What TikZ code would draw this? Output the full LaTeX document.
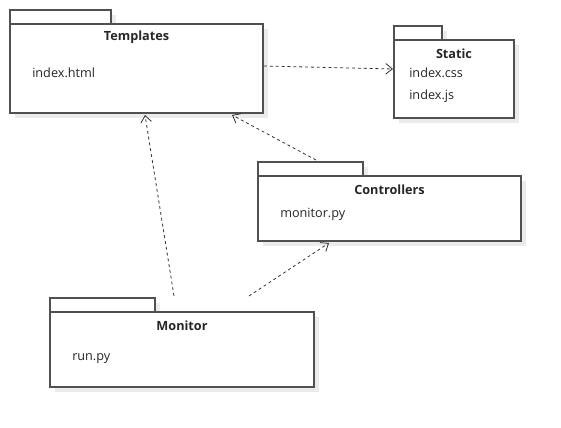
\documentclass[tikz,border=0pt]{standalone}
\usepackage{fontspec}
\setmainfont{Open Sans}
\usetikzlibrary{arrows.meta}
\definecolor{lineg}{HTML}{505050}
\definecolor{shad}{HTML}{EBEBEB}
\tikzset{
  pkgline/.style={draw=lineg, line width=1pt},
  shadowbox/.style={fill=shad, draw=none},
  title/.style={font=\fontsize{9.5}{11}\selectfont\bfseries, text=black!85, inner sep=0pt},
  item/.style={font=\fontsize{9.5}{11}\selectfont, text=black!85, inner sep=0pt, anchor=west},
  dep/.style={draw=black!80, line width=0.6pt, dash pattern=on 2.2pt off 2.2pt, -{Straight Barb[length=5pt,width=8pt,line width=0.6pt]}}
}
\newcommand{\pkg}[6]{% name, tabright, x1,y1,x2,y2 (tab top = y1-14)
  \fill[shadowbox] (#3+5,#4+5) rectangle (#5+5,#6+5);
  \fill[shadowbox] (#3+5,#4-14+5) rectangle (#2+5,#4);
  \draw[pkgline, fill=white] (#3,#4-14) rectangle (#2,#4);
  \draw[pkgline, fill=white] (#3,#4) rectangle (#5,#6);
  \coordinate (#1) at ({(#3+#5)/2},{(#4+#6)/2});
}
\begin{document}
\begin{tikzpicture}[x=0.75pt,y=-0.75pt]
\useasboundingbox (0,0) rectangle (561,428);
\fill[white] (0,0) rectangle (561,428);
% Templates
\pkg{tmpl}{111}{10}{24}{263}{113}
\node[title] (ttmpl) at (136.5,37.5) {Templates};
\node[item] (ihtml) at (32,73) {index.html};
% Static
\pkg{stat}{442}{394}{40}{514}{118}
\node[title] (tstat) at (454,53.5) {Static};
\node[item] (icss) at (409,73) {index.css};
\node[item] (ijs) at (409,96) {index.js};
% Controllers
\pkg{ctrl}{363}{258}{176}{521}{241}
\node[title] (tctrl) at (389.5,189.5) {Controllers};
\node[item] (imon) at (280,214) {monitor.py};
% Monitor
\pkg{mon}{155}{50}{312}{314}{387}
\node[title] (tmon) at (182,325.5) {Monitor};
\node[item] (irun) at (72,359) {run.py};
% connectors
\coordinate (a1) at (264,66);
\coordinate (a2) at (393,69);
\coordinate (b1) at (316,160);
\coordinate (b2) at (232,115);
\coordinate (c1) at (174,296);
\coordinate (c2) at (145,115);
\coordinate (d1) at (249,296);
\coordinate (d2) at (329,243);
\draw[dep] (a1) -- (a2);
\draw[dep] (b1) -- (b2);
\draw[dep] (c1) -- (c2);
\draw[dep] (d1) -- (d2);
\end{tikzpicture}
\end{document}
